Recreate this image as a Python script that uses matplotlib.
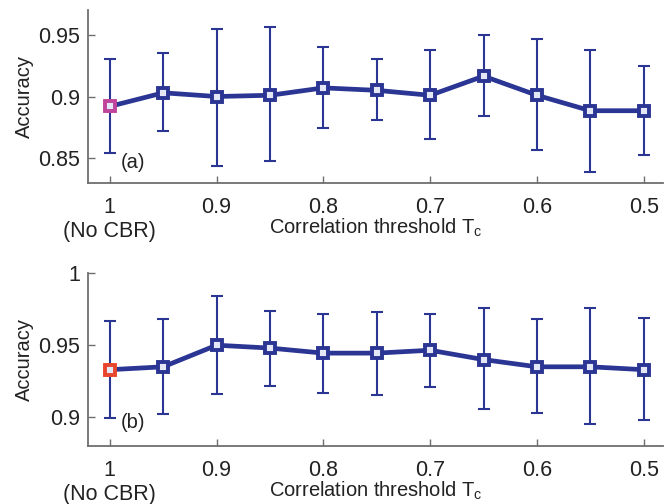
import numpy as np
import matplotlib
matplotlib.use("Agg")
import matplotlib.pyplot as plt

plt.rcParams['font.family'] = ['Liberation Sans', 'DejaVu Sans']

thresholds = [1.0, 0.95, 0.9, 0.85, 0.8, 0.75, 0.7, 0.65, 0.6, 0.55, 0.5]

# (a)
acc_a = [0.892, 0.903, 0.900, 0.901, 0.907, 0.905, 0.901, 0.9165, 0.901, 0.8885, 0.8885]
upper_a = [0.9305, 0.935, 0.955, 0.956, 0.940, 0.930, 0.938, 0.9495, 0.9465, 0.938, 0.9245]
lower_a = [0.8545, 0.872, 0.844, 0.8475, 0.8745, 0.881, 0.8655, 0.884, 0.857, 0.839, 0.8525]

# (b)
acc_b = [0.933, 0.935, 0.950, 0.948, 0.9445, 0.9445, 0.9465, 0.940, 0.935, 0.935, 0.933]
upper_b = [0.967, 0.968, 0.984, 0.974, 0.972, 0.973, 0.972, 0.9755, 0.968, 0.9755, 0.969]
lower_b = [0.8995, 0.902, 0.916, 0.922, 0.917, 0.9155, 0.921, 0.906, 0.903, 0.895, 0.898]

xticks = [1.0, 0.9, 0.8, 0.7, 0.6, 0.5]
xticklabels = ['1\n(No CBR)', '0.9', '0.8', '0.7', '0.6', '0.5']

blue = '#2b3594'
spine_gray = '#6e6e6e'
txt = '#222222'

fig = plt.figure(figsize=(6.65, 5.04), dpi=100)
ax1 = fig.add_axes([0.133, 0.637, 0.864, 0.343])
ax2 = fig.add_axes([0.133, 0.115, 0.864, 0.343])


def draw(ax, acc, upper, lower, first_color, ylim, yticks, yticklabels, tag, tag_y):
    acc = np.array(acc)
    err = [acc - np.array(lower), np.array(upper) - acc]
    ax.errorbar(thresholds, acc, yerr=err, fmt='none', ecolor=blue,
                elinewidth=1.5, capsize=4.5, capthick=1.5, zorder=2)
    ax.plot(thresholds, acc, '-', color=blue, lw=3.4, zorder=3)
    ax.plot(thresholds[1:], acc[1:], 's', ms=7.5, mfc='#e4e7f6', mec=blue, mew=2.8,
            zorder=4, ls='none')
    ax.plot(thresholds[0], acc[0], 's', ms=7.5, mfc='#e4e7f6', mec=first_color,
            mew=2.8, zorder=4)
    ax.set_xlim(1.02, 0.482)
    ax.set_ylim(*ylim)
    ax.set_xticks(xticks)
    ax.set_xticklabels(xticklabels, va='top', ha='center', multialignment='center',
                       linespacing=1.2)
    ax.set_yticks(yticks)
    ax.set_yticklabels(yticklabels)
    ax.tick_params(direction='in', length=5, width=1, color=spine_gray,
                   labelsize=15.5, labelcolor=txt)
    ax.tick_params(axis='x', pad=10)
    ax.tick_params(axis='y', pad=6)
    for s in ['top', 'right']:
        ax.spines[s].set_visible(False)
    for s in ['left', 'bottom']:
        ax.spines[s].set_color(spine_gray)
        ax.spines[s].set_linewidth(1.3)
    ax.set_ylabel('Accuracy', fontsize=14.5, color=txt, labelpad=3)
    ax.set_xlabel('Correlation threshold T$_\\mathregular{c}$', fontsize=14.5,
                  color=txt, va='center')
    ax.xaxis.set_label_coords(0.5, -0.26)
    ax.text(0.99, tag_y, tag, fontsize=14.5, color=txt, ha='left', va='center')


draw(ax1, acc_a, upper_a, lower_a, '#c0449b', (0.83, 0.97),
     [0.85, 0.9, 0.95], ['0.85', '0.9', '0.95'], '(a)', 0.8465)
draw(ax2, acc_b, upper_b, lower_b, '#e8452c', (0.88, 1.0),
     [0.9, 0.95, 1.0], ['0.9', '0.95', '1'], '(b)', 0.8965)

fig.savefig('out.png', dpi=100)
